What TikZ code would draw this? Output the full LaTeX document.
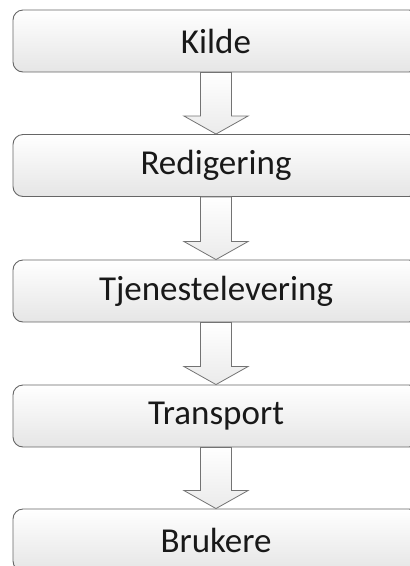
\documentclass[tikz,border=0pt]{standalone}
\usepackage{fontspec}
\setmainfont{Carlito}
\usetikzlibrary{calc}
\begin{document}
\begin{tikzpicture}[x=1pt,y=-1pt,
  stage/.style={draw=black!60, line width=0.9pt, rounded corners=10pt,
    top color=white, bottom color=black!10,
    minimum width=406pt, minimum height=62pt, inner sep=0pt,
    font=\fontsize{35}{40}\selectfont, text=black!90},
  flow/.style={draw=black!55, line width=0.8pt, line join=miter,
    top color=white, bottom color=black!8}]
\useasboundingbox (0,0) rectangle (410,566);
\clip (0,0) rectangle (410,566);
\node[stage] (kilde)   at (216,41)    {Kilde};
\node[stage] (red)     at (216,165.5) {Redigering};
\node[stage] (tjen)    at (216,291)   {Tjenestelevering};
\node[stage] (trans)   at (216,416)   {Transport};
\node[stage] (bruk)    at (216,540)   {Brukere};
% block arrows between consecutive stages
\foreach \a/\b in {kilde/red, red/tjen, tjen/trans, trans/bruk}{
  \path[flow] ($(\a.south)+(-15.5,0)$) -- ($(\a.south)+(15.5,0)$)
    -- ($(\b.north)+(15.5,-18)$) -- ($(\b.north)+(32,-18)$)
    -- (\b.north) -- ($(\b.north)+(-32,-18)$)
    -- ($(\b.north)+(-15.5,-18)$) -- cycle;
}
\end{tikzpicture}
\end{document}
